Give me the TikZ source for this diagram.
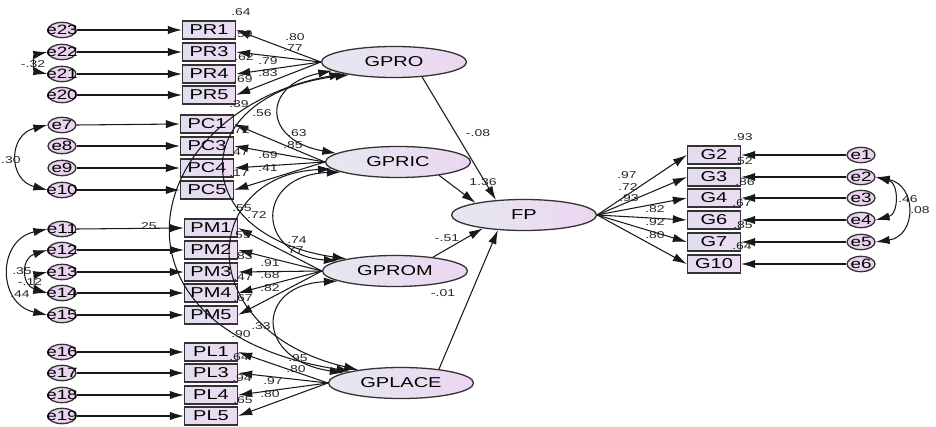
\documentclass[tikz,border=0pt]{standalone}
\usepackage{fontspec}
\setmainfont{Liberation Sans}
\newfontfamily\stretchsf[FakeStretch=1.4]{Liberation Sans}
\usetikzlibrary{arrows.meta,shapes.geometric}
\definecolor{boxL}{HTML}{E2DDEF}
\definecolor{boxR}{HTML}{EDDCF3}
\definecolor{latL}{HTML}{E5E8F0}
\definecolor{latR}{HTML}{ECD6F1}
\definecolor{errF}{HTML}{E9D3EE}
\definecolor{edge}{HTML}{333333}
\newcommand\myBigFont{\stretchsf\fontsize{12.2}{13}\selectfont}
\newcommand\mySmallFont{\stretchsf\fontsize{8.5}{9}\selectfont}
\newcommand\myErrFont{\stretchsf\fontsize{11.5}{12}\selectfont}
\tikzset{
  ind/.style={draw=edge, line width=1.1pt, minimum width=1.59cm, minimum height=0.54cm, inner sep=0pt, left color=boxL, right color=boxR, font=\myBigFont},
  lat/.style={ellipse, draw=edge, line width=1.1pt, minimum width=4.35cm, minimum height=0.93cm, inner sep=0pt, left color=latL, right color=latR, font=\myBigFont},
  err/.style={ellipse, draw=edge, line width=1.1pt, minimum width=0.84cm, minimum height=0.46cm, inner sep=0pt, fill=errF},
  elab/.style={font=\myErrFont, inner sep=0pt},
  arr/.style={-{Latex[length=4.2mm,width=2.5mm]}, line width=0.9pt, draw=black!90},
  cov/.style={{Latex[length=4.2mm,width=2.5mm]}-{Latex[length=4.2mm,width=2.5mm]}, line width=0.9pt, draw=black!90},
  lab/.style={font=\mySmallFont, inner sep=0pt, text=black!85},
}
\begin{document}
\begin{tikzpicture}[x=0.03cm,y=-0.03cm]
\useasboundingbox[fill=white] (0,0) rectangle (936,427);

% indicator boxes (left)
\node[ind] (PR1) at (209,30) {PR1};
\node[ind] (PR3) at (209,52) {PR3};
\node[ind] (PR4) at (209,74) {PR4};
\node[ind] (PR5) at (209,95) {PR5};
\node[ind] (PC1) at (207,124) {PC1};
\node[ind] (PC3) at (207,146) {PC3};
\node[ind] (PC4) at (207,168) {PC4};
\node[ind] (PC5) at (207,190) {PC5};
\node[ind] (PM1) at (211,228) {PM1};
\node[ind] (PM2) at (211,250) {PM2};
\node[ind] (PM3) at (211,272) {PM3};
\node[ind] (PM4) at (211,293) {PM4};
\node[ind] (PM5) at (211,315) {PM5};
\node[ind] (PL1) at (211,352) {PL1};
\node[ind] (PL3) at (211,373) {PL3};
\node[ind] (PL4) at (211,395) {PL4};
\node[ind] (PL5) at (211,416) {PL5};

% error terms (left)
\foreach \e/\y/\b in {e23/30/PR1,e22/52/PR3,e21/74/PR4,e20/95/PR5,
                       e7/125/PC1,e8/146/PC3,e9/168/PC4,e10/190/PC5,
                       e11/229/PM1,e12/250/PM2,e13/272/PM3,e14/293/PM4,e15/315/PM5,
                       e16/352/PL1,e17/373/PL3,e18/395/PL4,e19/416/PL5}{
  \node[err, label={[elab]center:\e}] (\e) at (62,\y) {};
  \draw[arr] (\e.east) -- (\b.west);
}

% latent variables
\node[lat] (GPRO) at (394,62) {GPRO};
\node[lat] (GPRIC) at (398,162) {GPRIC};
\node[lat] (GPROM) at (395,271) {GPROM};
\node[lat] (GPLACE) at (401,383) {GPLACE};
\node[lat] (FP) at (524,215) {FP};

% right indicators and errors
\foreach \g/\y/\e in {G2/155/e1,G3/177/e2,G4/198/e3,G6/220/e4,G7/242/e5,G10/264/e6}{
  \node[ind] (\g) at (714,\y) {\g};
  \node[err, label={[elab]center:\e}] (\e) at (861,\y) {};
  \draw[arr] (\e.west) -- (\g.east);
  \draw[arr] (FP.east) -- (\g.west);
}

% loadings
\foreach \b in {PR1,PR3,PR4,PR5}{\draw[arr] (GPRO.west) -- (\b.east);}
\foreach \b in {PC1,PC3,PC4,PC5}{\draw[arr] (GPRIC.west) -- (\b.east);}
\foreach \b in {PM1,PM2,PM3,PM4,PM5}{\draw[arr] (GPROM.west) -- (\b.east);}
\foreach \b in {PL1,PL3,PL4,PL5}{\draw[arr] (GPLACE.west) -- (\b.east);}

% structural paths
\draw[arr] (GPRO.-28) -- (FP.152);
\draw[arr] (GPRIC.-18) -- (FP.166);
\draw[arr] (GPROM.20) -- (FP.-162);
\draw[arr] (GPLACE.20) -- (FP.-150);

% latent covariances
\draw[cov] (GPRO.188) .. controls (262,85) and (262,140) .. (GPRIC.172);
\draw[cov] (GPRIC.190) .. controls (255,175) and (255,255) .. (GPROM.170);
\draw[cov] (GPROM.190) .. controls (255,285) and (255,360) .. (GPLACE.170);
\draw[cov] (GPRO.193) .. controls (140,110) and (90,330) .. (GPLACE.167);
\draw[cov] (GPRO.196) .. controls (185,95) and (185,235) .. (GPROM.166);
\draw[cov] (GPRIC.186) .. controls (200,175) and (190,330) .. (GPLACE.163);

% error covariances (left)
\draw[cov] (e22.west) .. controls (33,55) and (33,71) .. (e21.west);
\draw[cov] (e7.west) .. controls (8,135) and (8,180) .. (e10.west);
\draw[cov] (e11.west) .. controls (-3,240) and (-3,304) .. (e15.west);
\draw[cov] (e12.west) .. controls (21,258) and (21,285) .. (e14.west);
\draw[cov] (e13.west) .. controls (34,275) and (34,290) .. (e14.west);
% error covariances (right)
\draw[cov] (e2.east) .. controls (899,183) and (899,214) .. (e4.east);
\draw[cov] (e2.east) .. controls (917,185) and (917,236) .. (e5.east);

% labels: squared multiple correlations
\node[lab] (r1) at (241,12) {.64};
\node[lab] (r2) at (243,34) {.59};
\node[lab] (r3) at (244,57) {.62};
\node[lab] (r4) at (243,79) {.69};
\node[lab] (r5) at (239,104) {.39};
\node[lab] (r6) at (240,130) {.72};
\node[lab] (r7) at (239,152) {.47};
\node[lab] (r8) at (239,173) {.17};
\node[lab] (r9) at (242,208) {.55};
\node[lab] (r10) at (241,235) {.59};
\node[lab] (r11) at (243,256) {.83};
\node[lab] (r12) at (243,277) {.47};
\node[lab] (r13) at (243,298) {.67};
\node[lab] (r14) at (241,334) {.90};
\node[lab] (r15) at (239,357) {.64};
\node[lab] (r16) at (242,378) {.94};
\node[lab] (r17) at (243,400) {.65};
% loadings
\node[lab] (l1) at (295,37) {.80};
\node[lab] (l2) at (293,48) {.77};
\node[lab] (l3) at (268,61) {.79};
\node[lab] (l4) at (268,73) {.83};
\node[lab] (l5) at (297,133) {.63};
\node[lab] (l6) at (293,145) {.85};
\node[lab] (l7) at (268,155) {.69};
\node[lab] (l8) at (268,168) {.41};
\node[lab] (l9) at (297,240) {.74};
\node[lab] (l10) at (294,250) {.77};
\node[lab] (l11) at (270,263) {.91};
\node[lab] (l12) at (270,275) {.68};
\node[lab] (l13) at (270,288) {.82};
\node[lab] (l14) at (298,358) {.95};
\node[lab] (l15) at (296,369) {.80};
\node[lab] (l16) at (273,381) {.97};
\node[lab] (l17) at (270,394) {.80};
% covariances
\node[lab] (c1) at (262,113) {.56};
\node[lab] (c2) at (257,215) {.72};
\node[lab] (c3) at (261,326) {.33};
\node[lab] (c4) at (147,226) {.25};
\node[lab] (c5) at (33,64) {-.32};
\node[lab,anchor=west] (c6) at (1,160) {.30};
\node[lab] (c7) at (22,271) {.35};
\node[lab] (c8) at (30,282) {-.12};
\node[lab] (c9) at (20,294) {.44};
\node[lab] (c10) at (908,199) {.46};
\node[lab] (c11) at (920,210) {.08};
% structural
\node[lab] (s1) at (478,133) {-.08};
\node[lab] (s2) at (483,182) {1.36};
\node[lab] (s3) at (447,238) {-.51};
\node[lab] (s4) at (443,293) {-.01};
% right loadings and R2
\node[lab] (g1) at (627,175) {.97};
\node[lab] (g2) at (628,187) {.72};
\node[lab] (g3) at (629,198) {.93};
\node[lab] (g4) at (655,209) {.82};
\node[lab] (g5) at (655,222) {.92};
\node[lab] (g6) at (655,235) {.80};
\node[lab] (q1) at (743,137) {.93};
\node[lab] (q2) at (743,161) {.52};
\node[lab] (q3) at (745,182) {.86};
\node[lab] (q4) at (742,203) {.67};
\node[lab] (q5) at (743,225) {.85};
\node[lab] (q6) at (742,246) {.64};
\end{tikzpicture}
\end{document}
